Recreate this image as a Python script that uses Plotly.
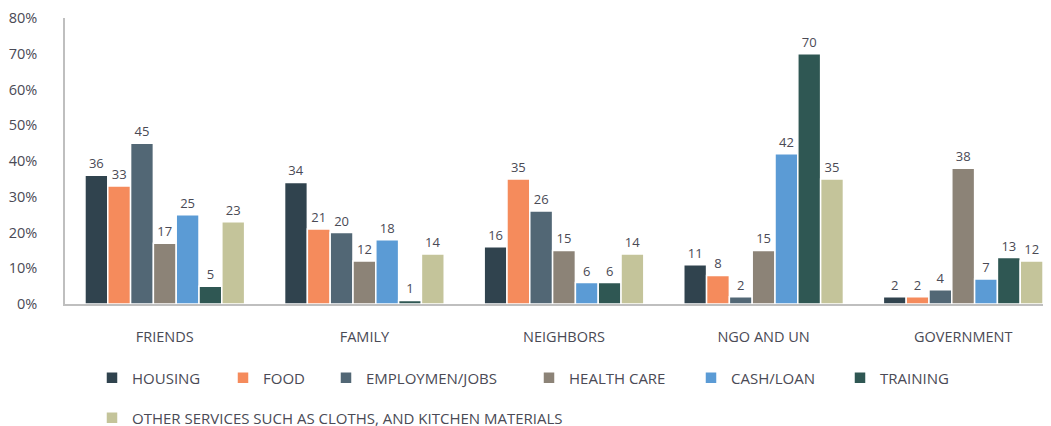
import plotly.graph_objects as go

# Dados
categories = ["FRIENDS", "FAMILY", "NEIGHBORS", "NGO AND UN", "GOVERNMENT"]
series_names = [
    "HOUSING",
    "FOOD",
    "EMPLOYMEN/JOBS",
    "HEALTH CARE",
    "CASH/LOAN",
    "TRAINING",
    "OTHER SERVICES SUCH AS CLOTHS, AND KITCHEN MATERIALS",
]
housing = [36, 34, 16, 11, 2]
food = [33, 21, 35, 8, 2]
employment = [45, 20, 26, 2, 4]
health_care = [17, 12, 15, 15, 38]
cash_loan = [25, 18, 6, 42, 7]
training = [5, 1, 6, 70, 13]
other_services = [23, 14, 14, 35, 12]
y_ticks = [0, 10, 20, 30, 40, 50, 60, 70, 80]
y_tick_labels = [f"{v}%" for v in y_ticks]

series_values = [housing, food, employment, health_care, cash_loan, training, other_services]
colors = ["#30434e", "#f58b5c", "#526775", "#8c8377", "#5b9bd5", "#2f5753", "#c4c49a"]

FONT = "Open Sans, Noto Sans, sans-serif"
TEXT_COLOR = "#4a4a55"

# a área do gráfico passa um pouco da borda direita da janela, como no original
W, H = 1060, 426
OFF = 8  # margem do body da página html

# posição (px) de cada item da legenda: centro do quadrado, linha
legend_pos = [(118, 378), (249, 378), (352, 378), (555, 378), (717, 378), (866, 378), (118, 418)]

fig = go.Figure()
legend_layout = {}
for i, (name, vals, col) in enumerate(zip(series_names, series_values, colors)):
    key = "legend" if i == 0 else f"legend{i + 1}"
    fig.add_trace(go.Bar(
        name=name,
        x=categories,
        y=vals,
        marker=dict(color=col, line=dict(color="white", width=1.5)),
        text=vals,
        textposition="outside",
        textfont=dict(size=13, color=TEXT_COLOR, family=FONT),
        cliponaxis=False,
        legend=key,
        showlegend=True,
    ))
    px, py = legend_pos[i]
    legend_layout[key] = dict(
        orientation="h",
        xref="container", yref="container",
        x=(px - OFF - 26) / W, y=1 - (py - OFF) / H,
        xanchor="left", yanchor="middle",
        font=dict(size=15, color=TEXT_COLOR, family=FONT),
        bgcolor="rgba(0,0,0,0)",
        visible=True,
    )

fig.update_layout(
    barmode="group",
    bargap=0.2,
    bargroupgap=0.0,
    width=W,
    height=H,
    showlegend=True,
    margin=dict(l=65 - OFF, r=W + OFF - 1063, t=18 - OFF, b=122 + OFF),
    plot_bgcolor="white",
    paper_bgcolor="white",
    font=dict(family=FONT, size=14, color=TEXT_COLOR),
    **legend_layout,
)
fig.update_yaxes(
    range=[0, 80],
    tickvals=y_ticks,
    ticktext=y_tick_labels,
    showgrid=False,
    showline=True,
    linecolor="#bfbfbf",
    linewidth=1.5,
    zeroline=False,
    automargin=False,
    ticklabelstandoff=23,
    tickfont=dict(size=14.5, color=TEXT_COLOR),
)
fig.update_xaxes(
    showline=True,
    linecolor="#bfbfbf",
    linewidth=1.5,
    automargin=False,
    ticklabelstandoff=19,
    tickfont=dict(size=14.5, color=TEXT_COLOR),
)

fig.write_html("out.html")
